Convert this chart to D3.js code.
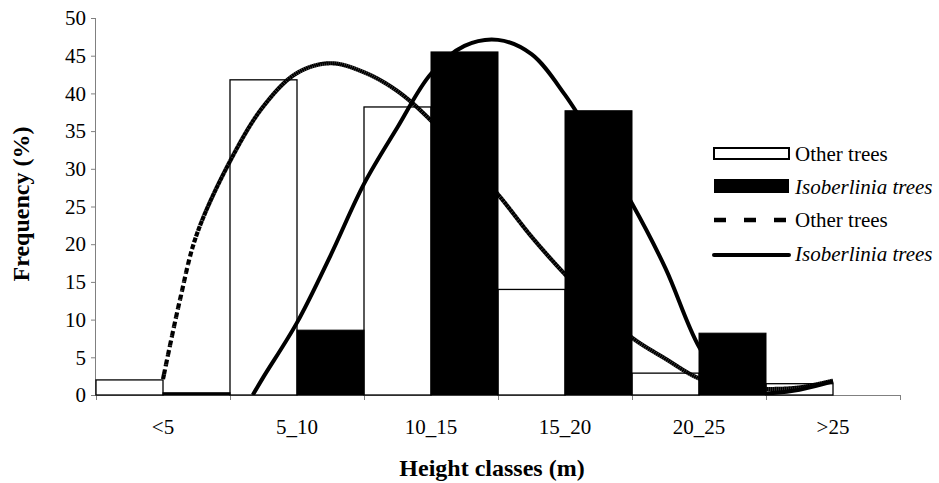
<!DOCTYPE html>
<html>
<head>
<meta charset="utf-8">
<script src="https://cdn.jsdelivr.net/npm/d3@7"></script>
<style>
  html, body { margin: 0; padding: 0; background: #fff; }
  svg { display: block; }
  text { font-family: "Liberation Serif", "Times New Roman", serif; fill: #000; }
</style>
</head>
<body>
<svg id="chart" width="939" height="483"></svg>
<script>
// ---------- data ----------
const categories = ["<5", "5_10", "10_15", "15_20", "20_25", ">25"];
const otherTrees = [2.0, 41.8, 38.2, 14.0, 2.9, 1.5];        // white bars, %
const isoberliniaTrees = [0.3, 8.6, 45.5, 37.7, 8.2, 0];      // black bars, %
const yTicks = [0, 5, 10, 15, 20, 25, 30, 35, 40, 45, 50];

// fitted curves: position along the category axis (0 = left edge of "<5", 1 category = 1 unit)
const otherCurveX = [0.5, 0.625, 0.75, 1.0, 1.25, 1.5, 1.75, 2.0, 2.25, 2.5, 2.75, 3.0, 3.25, 3.5, 3.75, 4.0, 4.25, 4.5, 4.75, 5.0, 5.25, 5.5];
const otherCurveY = [2.1, 12.5, 21.2, 31.0, 38.3, 42.7, 44.0, 42.8, 40.3, 36.4, 31.5, 26.6, 21.0, 16.0, 11.5, 7.6, 4.8, 2.2, 1.1, 0.8, 1.0, 1.9];
const isoCurveX = [1.17, 1.25, 1.5, 1.75, 2.0, 2.25, 2.5, 2.75, 3.0, 3.25, 3.5, 3.75, 4.0, 4.25, 4.5, 4.75, 5.0, 5.25, 5.5];
const isoCurveY = [0, 2.4, 9.6, 18.5, 28.0, 35.5, 42.6, 46.3, 47.1, 45.2, 39.8, 32.8, 25.4, 16.8, 6.4, 0.2, 0.2, 0.7, 1.8];

const legendLabels = ["Other trees", "Isoberlinia trees", "Other trees", "Isoberlinia trees"];

(function () {
// ---------- layout ----------
const svg = d3.select("#chart");
const pLeft = 96, pRight = 900, pTop = 18, pBottom = 395;
const tickFont = "21px", titleFont = "24px";

const xBand = d3.scaleBand().domain(categories).range([pLeft, pRight]).paddingInner(0).paddingOuter(0);
const xLin = d3.scaleLinear().domain([0, categories.length]).range([pLeft, pRight]);
const y = d3.scaleLinear().domain([0, 50]).range([pBottom, pTop]);

const axisColor = "#808080";

// axes
const yAxis = svg.append("g").attr("transform", `translate(${pLeft},0)`)
  .call(d3.axisLeft(y).tickValues(yTicks).tickSize(5).tickPadding(5));
yAxis.attr("font-family", null).attr("font-size", null);
yAxis.select(".domain").attr("stroke", axisColor).attr("d", `M-0.5,${pTop}V${pBottom}`);
yAxis.selectAll(".tick line").attr("stroke", axisColor);
yAxis.selectAll(".tick text").style("font-size", tickFont).style("font-family", "Liberation Serif");

const xAxis = svg.append("g").attr("transform", `translate(0,${pBottom})`)
  .call(d3.axisBottom(xLin).tickValues(d3.range(0, categories.length + 1)).tickSize(5).tickFormat(""));
xAxis.select(".domain").attr("stroke", axisColor).attr("d", `M${pLeft},0.5H${pRight}`);
xAxis.selectAll(".tick line").attr("stroke", axisColor);

svg.append("g").selectAll("text").data(categories).join("text")
  .attr("x", d => xBand(d) + xBand.bandwidth() / 2)
  .attr("y", 434)
  .attr("text-anchor", "middle")
  .style("font-size", tickFont)
  .text(d => d);

// axis titles
svg.append("text").attr("x", 492).attr("y", 476).attr("text-anchor", "middle")
  .style("font-size", titleFont).style("font-weight", "bold").text("Height classes (m)");
svg.append("text").attr("transform", "translate(29,204) rotate(-90)").attr("text-anchor", "middle")
  .style("font-size", titleFont).style("font-weight", "bold").text("Frequency (%)");

// clip for curves
svg.append("defs").append("clipPath").attr("id", "plotclip")
  .append("rect").attr("x", pLeft).attr("y", pTop).attr("width", pRight - pLeft).attr("height", pBottom - pTop);

const half = xBand.bandwidth() / 2;

// white bars
svg.append("g").selectAll("rect").data(categories).join("rect")
  .attr("x", d => xBand(d))
  .attr("y", (d, i) => y(otherTrees[i]))
  .attr("width", half)
  .attr("height", (d, i) => y(0) - y(otherTrees[i]))
  .attr("fill", "#fff").attr("stroke", "#000").attr("stroke-width", 1.3);

// curves
const gCurves = svg.append("g").attr("clip-path", "url(#plotclip)");
const curveLine = d3.line().x(d => xLin(d[0])).y(d => y(d[1])).curve(d3.curveCatmullRom.alpha(0.5));

// dotted "Other trees" curve: dash pattern restarts on each short piece, like the original renderer
const otherPts = d3.zip(otherCurveX, otherCurveY);
const tmp = gCurves.append("path").attr("d", curveLine(otherPts)).attr("fill", "none").attr("stroke", "none");
const node = tmp.node();
const L = node.getTotalLength();
const segs = [];
let cur = [], lastBin = null;
const stepX = 2;
for (let s = 0; s <= L + 0.25; s += 0.25) {
  const p = node.getPointAtLength(Math.min(s, L));
  const bin = Math.floor((p.x - pLeft) / stepX);
  if (lastBin !== null && bin !== lastBin) {
    cur.push([p.x, p.y]);
    segs.push(cur);
    cur = [[p.x, p.y]];
  } else {
    cur.push([p.x, p.y]);
  }
  lastBin = bin;
}
if (cur.length > 1) segs.push(cur);
tmp.remove();
const segLine = d3.line();
gCurves.append("g").selectAll("path").data(segs).join("path")
  .attr("d", d => segLine(d))
  .attr("fill", "none").attr("stroke", "#000").attr("stroke-width", 4.2)
  .attr("stroke-dasharray", "5,3").attr("stroke-linecap", "butt");

// solid "Isoberlinia" curve
gCurves.append("path").attr("d", curveLine(d3.zip(isoCurveX, isoCurveY)))
  .attr("fill", "none").attr("stroke", "#000").attr("stroke-width", 4).attr("stroke-linejoin", "round");

// black bars (drawn over the curves)
svg.append("g").selectAll("rect").data(categories).join("rect")
  .attr("x", d => xBand(d) + half)
  .attr("y", (d, i) => y(isoberliniaTrees[i]))
  .attr("width", half)
  .attr("height", (d, i) => y(0) - y(isoberliniaTrees[i]))
  .attr("fill", "#000").attr("stroke", "#000").attr("stroke-width", (d, i) => isoberliniaTrees[i] > 0 ? 1 : 0);

// legend
const lg = svg.append("g");
const lx0 = 714, lx1 = 789, tx = 795;
lg.append("rect").attr("x", lx0).attr("y", 148).attr("width", lx1 - lx0).attr("height", 11)
  .attr("fill", "#fff").attr("stroke", "#000").attr("stroke-width", 2);
lg.append("rect").attr("x", lx0).attr("y", 179).attr("width", lx1 - lx0).attr("height", 14)
  .attr("fill", "#000");
lg.append("line").attr("x1", lx0).attr("x2", lx1).attr("y1", 220).attr("y2", 220)
  .attr("stroke", "#000").attr("stroke-width", 4.5).attr("stroke-dasharray", "12,18");
lg.append("line").attr("x1", lx0).attr("x2", lx1).attr("y1", 255).attr("y2", 255)
  .attr("stroke", "#000").attr("stroke-width", 4).attr("stroke-linecap", "round");
const ly = [161, 194, 227, 261];
lg.selectAll("text.lbl").data(legendLabels).join("text").attr("class", "lbl")
  .attr("x", tx).attr("y", (d, i) => ly[i])
  .style("font-size", tickFont)
  .style("font-style", (d, i) => i % 2 === 1 ? "italic" : "normal")
  .text(d => d);
})();
</script>
</body>
</html>
